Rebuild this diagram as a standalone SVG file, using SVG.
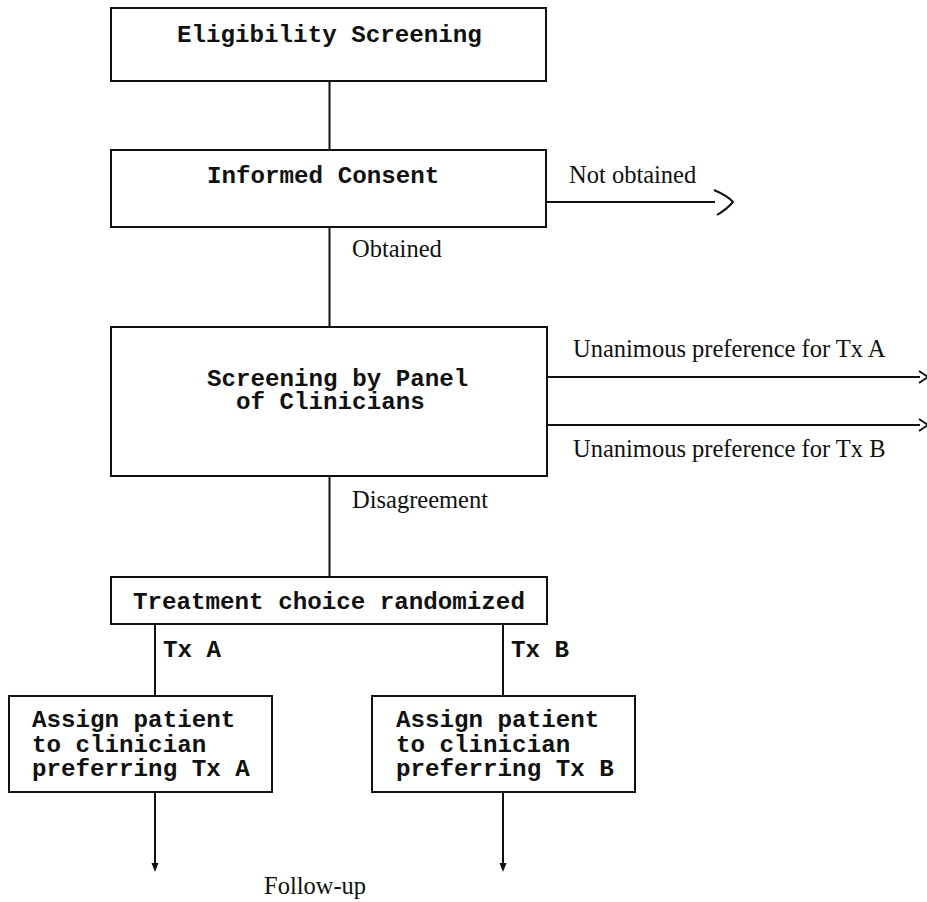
<svg xmlns="http://www.w3.org/2000/svg" width="927" height="902" viewBox="0 0 927 902">
<style>
.box{fill:#fff;stroke:#111;stroke-width:2}
.ln{fill:none;stroke:#111;stroke-width:2}
.mono{font-family:"Liberation Mono","Courier New",monospace;font-size:24.2px;font-weight:bold;fill:#111}
.serif{font-family:"Liberation Serif","Times New Roman",serif;font-size:24.5px;fill:#111}
</style>
<rect width="927" height="902" fill="#fff"/>
<g id="connectors">
<line class="ln" x1="329.5" y1="81" x2="329.5" y2="150"/>
<line class="ln" x1="329.5" y1="227" x2="329.5" y2="327"/>
<line class="ln" x1="329.5" y1="476" x2="329.5" y2="577"/>
<line class="ln" x1="155" y1="624" x2="155" y2="696"/>
<line class="ln" x1="503" y1="624" x2="503" y2="696"/>
<line class="ln" x1="155" y1="792" x2="155" y2="864"/>
<path d="M151.5,863 L155,872 L158.5,863 Z" fill="#111"/>
<line class="ln" x1="503" y1="792" x2="503" y2="864"/>
<path d="M499.5,863 L503,872 L506.5,863 Z" fill="#111"/>
<line class="ln" x1="547" y1="202" x2="715" y2="202"/>
<path class="ln" d="M714,190 Q728,196 733,202 Q727,209 717,215"/>
<line class="ln" x1="547" y1="377" x2="920" y2="377"/>
<path class="ln" d="M919,371 L928,377 L919,383"/>
<line class="ln" x1="547" y1="425" x2="920" y2="425"/>
<path class="ln" d="M919,419 L928,425 L919,431"/>
<text class="serif" x="569" y="183">Not obtained</text>
<text class="serif" x="352" y="257">Obtained</text>
<text class="serif" x="573" y="357">Unanimous preference for Tx A</text>
<text class="serif" x="573" y="457">Unanimous preference for Tx B</text>
<text class="serif" x="352" y="508">Disagreement</text>
<text class="mono" x="163" y="657">Tx A</text>
<text class="mono" x="511" y="657">Tx B</text>
<text class="serif" x="264" y="894">Follow-up</text>
</g>
<g id="eligibility">
<rect class="box" x="111" y="8" width="435" height="73"/>
<text class="mono" x="177" y="42">Eligibility Screening</text>
</g>
<g id="consent">
<rect class="box" x="111" y="150" width="435" height="77"/>
<text class="mono" x="207" y="183">Informed Consent</text>
</g>
<g id="panel">
<rect class="box" x="111" y="327" width="436" height="149"/>
<text class="mono" x="207" y="386">Screening by Panel</text>
<text class="mono" x="236" y="409">of Clinicians</text>
</g>
<g id="randomized">
<rect class="box" x="111" y="577" width="436" height="47"/>
<text class="mono" x="133" y="609">Treatment choice randomized</text>
</g>
<g id="assignA">
<rect class="box" x="9" y="696" width="263" height="96"/>
<text class="mono" x="32" y="727">Assign patient</text>
<text class="mono" x="32" y="752">to clinician</text>
<text class="mono" x="32" y="776">preferring Tx A</text>
</g>
<g id="assignB">
<rect class="box" x="372" y="696" width="263" height="96"/>
<text class="mono" x="396" y="727">Assign patient</text>
<text class="mono" x="396" y="752">to clinician</text>
<text class="mono" x="396" y="776">preferring Tx B</text>
</g>
</svg>
